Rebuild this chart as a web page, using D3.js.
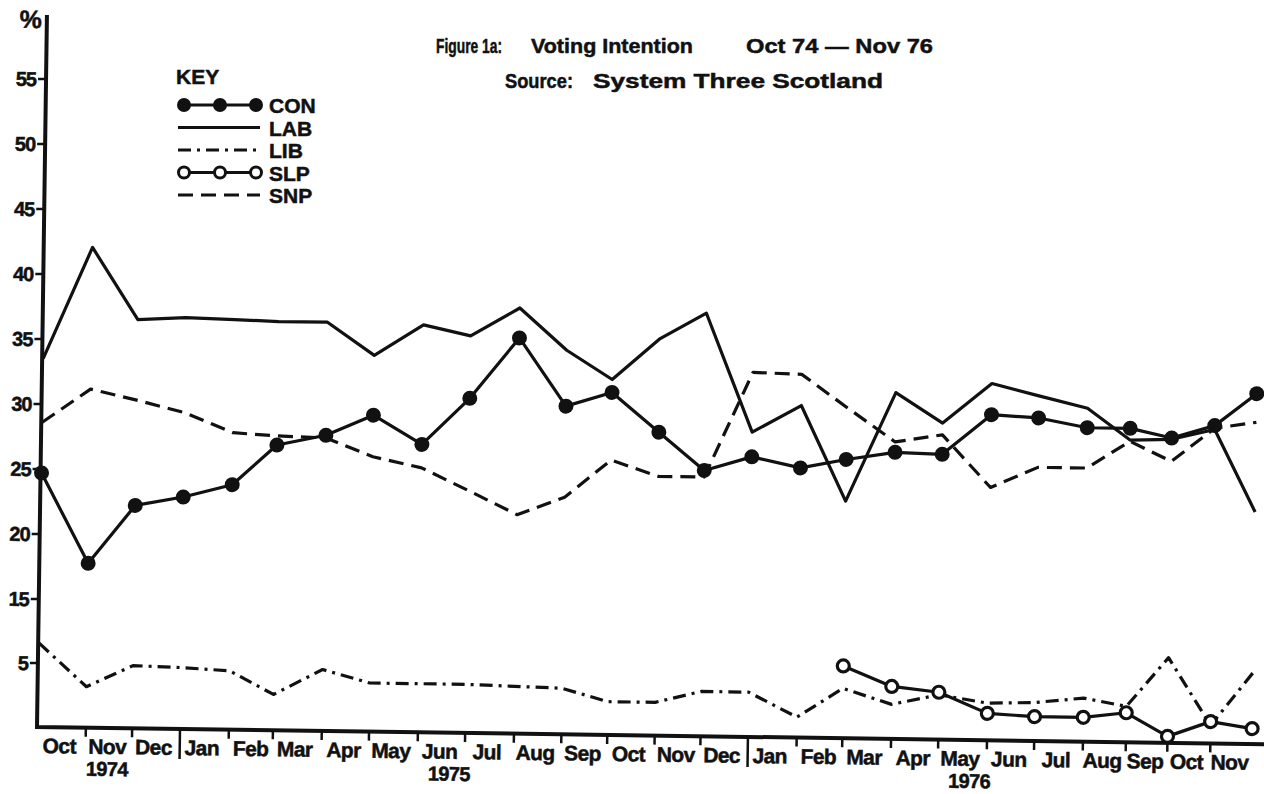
<!DOCTYPE html>
<html>
<head>
<meta charset="utf-8">
<script src="https://cdn.jsdelivr.net/npm/d3@7"></script>
<style>
    body { margin: 0; background: #fff; }
    #showBox { width: 1264px; height: 794px; }
    svg { display: block; font-family: "Liberation Sans", Arial, sans-serif; font-weight: bold; }
    svg text { fill: #111; stroke: #111; stroke-width: 0.5px; }
</style>
</head>
<body>
<div id="showBox"></div>
<script>
// poll months, Oct 74 - Dec 76 (each point sits on the 1st of the month)
const pollMonths = ["1974-10", "1974-11", "1974-12", "1975-01", "1975-02", "1975-03", "1975-04",
    "1975-05", "1975-06", "1975-07", "1975-08", "1975-09", "1975-10", "1975-11", "1975-12",
    "1976-01", "1976-02", "1976-03", "1976-04", "1976-05", "1976-06", "1976-07", "1976-08",
    "1976-09", "1976-10", "1976-11", "1976-12"]

const con = [24.7, 17.8, 22.3, 23.0, 24.0, 27.1, 27.9, 29.5, 27.3, 30.9, 35.6, 30.4, 31.5, 28.5,
    25.6, 26.7, 25.9, 26.6, 27.2, 27.1, 30.2, 30.0, 29.3, 29.3, 28.6, 29.6, 32.1]
const lab = [33.5, 42.1, 36.6, 36.8, 36.7, 36.6, 36.6, 34.1, 36.5, 35.7, 37.9, 34.7, 32.5, 35.7,
    37.7, 28.6, 30.7, 23.4, 31.8, 29.5, 32.6, 31.7, 30.8, 28.4, 28.5, 29.3, 23.0]
const lib = [8.1, 3.2, 4.9, 4.8, 4.6, 2.8, 4.8, 3.8, 3.8, 3.8, 3.7, 3.6, 2.6, 2.6,
    3.5, 3.5, 1.6, 3.9, 2.7, 3.5, 2.9, 3.0, 3.4, 2.8, 8.3, 1.4, 6.1]
const slp = [null, null, null, null, null, null, null, null, null, null, null, null, null, null,
    null, null, null, 6.3, 4.1, 3.7, 2.1, 1.9, 1.9, 2.3, 0.5, 1.7, 1.2]
const snp = [28.6, 31.2, 30.4, 29.5, 28.0, 27.8, 27.7, 26.3, 25.5, 23.8, 22.0, 23.4, 26.3, 25.1,
    25.1, 33.2, 33.1, 30.6, 28.0, 28.6, 24.6, 26.2, 26.2, 28.3, 26.8, 29.4, 29.9]

const monthNames = ["Oct", "Nov", "Dec", "Jan", "Feb", "Mar", "Apr", "May", "Jun", "Jul", "Aug",
    "Sep", "Oct", "Nov", "Dec", "Jan", "Feb", "Mar", "Apr", "May", "Jun", "Jul", "Aug", "Sep",
    "Oct", "Nov"]
const yearNames = ["1974", "1975", "1976"]
const yearAt = ["1974-11-15", "1975-06-21", "1976-05-21"]
const yTicks = [5, 15, 20, 25, 30, 35, 40, 45, 50, 55]

const parseMonth = d3.timeParse("%Y-%m")
const parseDay = d3.timeParse("%Y-%m-%d")

class VotingChart {
    constructor() {
        this.width = 1264
        this.height = 794
    }

    Chart() {
        const dates = pollMonths.map(parseMonth)
        const series = [
            {name: "CON", values: con, marker: "filled", dash: null},
            {name: "LAB", values: lab, marker: null, dash: null},
            {name: "LIB", values: lib, marker: null, dash: "13,6,3,6"},
            {name: "SLP", values: slp, marker: "open", dash: null},
            {name: "SNP", values: snp, marker: null, dash: "15,8"}
        ]

        // the hand-drawn month spacing is not quite even
        const x = d3.scaleTime()
            .domain(["1974-10-01", "1975-01-01", "1975-08-01", "1976-01-01", "1976-08-01", "1976-12-01"].map(parseDay))
            .range([1, 143, 477, 711, 1046, 1215])
        // broken scale: 5 to 15 squeezed into one step
        const y = d3.scaleLinear()
            .domain([0, 5, 15, 55])
            .range([0, -64, -128, -648])

        const svg = d3.create("svg")
            .attr("width", this.width)
            .attr("height", this.height)
            .attr("viewBox", [0, 0, this.width, this.height])

        svg.append("rect").attr("width", this.width).attr("height", this.height).attr("fill", "#fff")

        // the scanned page is turned slightly
        const g = svg.append("g").attr("transform", "translate(37,727) rotate(0.8)")

        g.append("path")
            .attr("d", "M0,-712V0H1240")
            .attr("fill", "none")
            .attr("stroke", "#111")
            .attr("stroke-width", 4)

        g.append("g")
            .selectAll("line")
            .data(yTicks)
            .join("line")
            .attr("x1", -8).attr("x2", 0)
            .attr("y1", d => y(d)).attr("y2", d => y(d))
            .attr("stroke", "#111")
            .attr("stroke-width", 2.5)

        g.append("g")
            .attr("font-size", 20)
            .attr("text-anchor", "end")
            .selectAll("text")
            .data(yTicks)
            .join("text")
            .attr("x", -10)
            .attr("y", d => y(d))
            .attr("dy", "0.36em")
            .attr("letter-spacing", -1)
            .text(d => d)

        g.append("text")
            .attr("x", -5)
            .attr("y", -699)
            .attr("font-size", 25)
            .attr("text-anchor", "end")
            .text("%")

        const monthTicks = d3.timeMonth.range(parseDay("1974-11-01"), parseDay("1976-12-01"))
        g.append("g")
            .selectAll("line")
            .data(monthTicks)
            .join("line")
            .attr("x1", d => x(d)).attr("x2", d => x(d))
            .attr("y1", 0)
            .attr("y2", d => d.getMonth() === 0 ? 30 : 9)
            .attr("stroke", "#111")
            .attr("stroke-width", 2.5)

        const labelDates = d3.timeMonth.range(parseDay("1974-10-01"), parseDay("1976-12-01"))
            .map(d => d3.timeDay.offset(d, 14))
        g.append("g")
            .attr("font-size", 21)
            .attr("text-anchor", "middle")
            .selectAll("text")
            .data(labelDates)
            .join("text")
            .attr("x", d => x(d))
            .attr("y", 26)
            .attr("letter-spacing", -0.6)
            .text((d, i) => monthNames[i])

        g.append("g")
            .attr("font-size", 20)
            .attr("text-anchor", "middle")
            .selectAll("text")
            .data(yearAt)
            .join("text")
            .attr("x", d => x(parseDay(d)))
            .attr("y", 48)
            .attr("letter-spacing", -0.6)
            .text((d, i) => yearNames[i])

        const line = d3.line()
            .defined(d => d.v != null)
            .x(d => x(d.date))
            .y(d => y(d.v))

        series.forEach(s => {
            const pts = dates.map((date, i) => ({date: date, v: s.values[i]}))
            g.append("path")
                .datum(pts)
                .attr("d", line)
                .attr("fill", "none")
                .attr("stroke", "#111")
                .attr("stroke-width", 3.2)
                .attr("stroke-linejoin", "round")
                .attr("stroke-dasharray", s.dash)

            if (s.marker) {
                g.append("g")
                    .selectAll("circle")
                    .data(pts.filter(d => d.v != null))
                    .join("circle")
                    .attr("cx", d => x(d.date))
                    .attr("cy", d => y(d.v))
                    .attr("r", s.marker === "filled" ? 7.5 : 6)
                    .attr("fill", s.marker === "filled" ? "#111" : "#fff")
                    .attr("stroke", "#111")
                    .attr("stroke-width", s.marker === "filled" ? 0 : 3.2)
            }
        })

        // title
        const title = svg.append("g")
        const titleParts = [
            {t: "Figure 1a:", x: 436, y: 53, w: 66, fs: 20},
            {t: "Voting Intention", x: 531, y: 53, w: 162, fs: 21},
            {t: "Oct 74 \u2014 Nov 76", x: 746, y: 53, w: 187, fs: 21},
            {t: "Source:", x: 505, y: 88, w: 68, fs: 20},
            {t: "System Three Scotland", x: 593, y: 88, w: 290, fs: 21}
        ]
        title.selectAll("text")
            .data(titleParts)
            .join("text")
            .attr("x", d => d.x)
            .attr("y", d => d.y)
            .attr("font-size", d => d.fs)
            .attr("textLength", d => d.w)
            .attr("lengthAdjust", "spacingAndGlyphs")
            .text(d => d.t)

        // key
        const key = svg.append("g").attr("transform", "translate(176,0)")
        key.append("text").attr("x", 0).attr("y", 84).attr("font-size", 21).text("KEY")
        const row = d3.scalePoint().domain(series.map(s => s.name)).range([105, 195])
        const sample = d3.scaleLinear().domain([0, 2]).range([8, 80])
        series.forEach(s => {
            const ry = row(s.name)
            key.append("line")
                .attr("x1", 2).attr("x2", 84)
                .attr("y1", ry).attr("y2", ry)
                .attr("stroke", "#111")
                .attr("stroke-width", 3)
                .attr("stroke-dasharray", s.dash)
            if (s.marker) {
                key.append("g")
                    .selectAll("circle")
                    .data([0, 1, 2])
                    .join("circle")
                    .attr("cx", d => sample(d))
                    .attr("cy", ry)
                    .attr("r", s.marker === "filled" ? 7 : 5.5)
                    .attr("fill", s.marker === "filled" ? "#111" : "#fff")
                    .attr("stroke", "#111")
                    .attr("stroke-width", s.marker === "filled" ? 0 : 3)
            }
            key.append("text")
                .attr("x", 93)
                .attr("y", ry + 8)
                .attr("font-size", 21)
                .text(s.name)
        })

        return svg.node()
    }

    ReDraw() {
        d3.select("#showBox").selectAll("svg").remove()
        const node = this.Chart()
        d3.select("#showBox").append(() => node)
    }
}

const vc = new VotingChart()
vc.ReDraw()
</script>
</body>
</html>
